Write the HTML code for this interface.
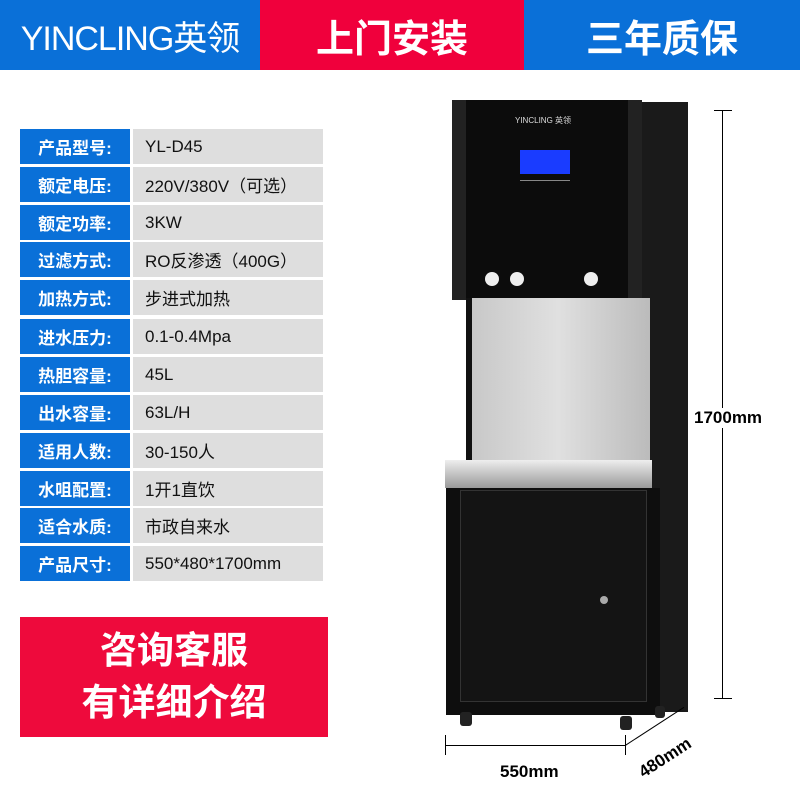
<!DOCTYPE html>
<html><head><meta charset="utf-8"><style>
body{margin:0;width:800px;height:800px;background:#fff;position:relative;overflow:hidden;font-family:"Liberation Sans","Noto Sans CJK SC",sans-serif}
.a{position:absolute}
.h{top:0;height:70px;color:#fff;font-weight:bold;display:flex;align-items:center;justify-content:center}
.l{position:absolute;left:20px;width:110px;height:35px;background:#0a70d8;color:#fff;font-size:17px;display:flex;align-items:center;justify-content:center;font-weight:bold}
.v{position:absolute;left:133px;width:190px;height:35px;background:#dedede;color:#111;font-size:17px;display:flex;align-items:center;padding-left:12px;box-sizing:border-box}
</style></head><body>
<div class="a h" style="left:0;width:260px;background:#0a70d8;font-size:34px;font-weight:normal;letter-spacing:-1px">YINCLING英领</div>
<div class="a h" style="left:260px;width:264px;background:#f0003c;font-size:38px">上门安装</div>
<div class="a h" style="left:524px;width:276px;background:#0a70d8;font-size:38px">三年质保</div>

<div class="l" style="top:129px">产品型号:</div><div class="v" style="top:129px">YL-D45</div>
<div class="l" style="top:167px">额定电压:</div><div class="v" style="top:167px">220V/380V（可选）</div>
<div class="l" style="top:205px">额定功率:</div><div class="v" style="top:205px">3KW</div>
<div class="l" style="top:242px">过滤方式:</div><div class="v" style="top:242px">RO反渗透（400G）</div>
<div class="l" style="top:280px">加热方式:</div><div class="v" style="top:280px">步进式加热</div>
<div class="l" style="top:319px">进水压力:</div><div class="v" style="top:319px">0.1-0.4Mpa</div>
<div class="l" style="top:357px">热胆容量:</div><div class="v" style="top:357px">45L</div>
<div class="l" style="top:395px">出水容量:</div><div class="v" style="top:395px">63L/H</div>
<div class="l" style="top:433px">适用人数:</div><div class="v" style="top:433px">30-150人</div>
<div class="l" style="top:471px">水咀配置:</div><div class="v" style="top:471px">1开1直饮</div>
<div class="l" style="top:508px">适合水质:</div><div class="v" style="top:508px">市政自来水</div>
<div class="l" style="top:546px">产品尺寸:</div><div class="v" style="top:546px">550*480*1700mm</div>

<div class="a" style="left:20px;top:617px;width:308px;height:120px;background:#ee0a3c;color:#fff;font-weight:bold;font-size:37px;text-align:center;line-height:52px;padding-top:8px;box-sizing:border-box">咨询客服<br>有详细介绍</div>

<!-- machine -->
<div class="a" style="left:640px;top:102px;width:48px;height:610px;background:#1a1a1a;transform:skewY(0deg)"></div>
<div class="a" style="left:452px;top:100px;width:190px;height:200px;background:#0c0c0c;border-left:14px solid #222;border-right:14px solid #222;box-sizing:border-box"></div>
<div class="a" style="left:515px;top:115px;color:#ddd;font-size:8px">YINCLING 英领</div>
<div class="a" style="left:520px;top:150px;width:50px;height:24px;background:#1a3cff"></div>
<div class="a" style="left:520px;top:180px;width:50px;height:8px;border-top:1px solid #888"></div>
<div class="a" style="left:485px;top:272px;width:14px;height:14px;border-radius:50%;background:#eee"></div>
<div class="a" style="left:510px;top:272px;width:14px;height:14px;border-radius:50%;background:#eee"></div>
<div class="a" style="left:584px;top:272px;width:14px;height:14px;border-radius:50%;background:#eee"></div>
<div class="a" style="left:466px;top:298px;width:184px;height:164px;background:linear-gradient(90deg,#111 0 6px,#c8c8c8 6px,#e0e0e0 50%,#bbb);"></div>
<div class="a" style="left:445px;top:460px;width:207px;height:28px;background:linear-gradient(#eee,#999)"></div>
<div class="a" style="left:446px;top:488px;width:214px;height:227px;background:#0e0e0e"></div>
<div class="a" style="left:460px;top:490px;width:185px;height:210px;border:1px solid #333;background:#141414"></div>
<div class="a" style="left:600px;top:596px;width:8px;height:8px;border-radius:50%;background:#aaa"></div>
<div class="a" style="left:460px;top:712px;width:12px;height:14px;border-radius:3px;background:#222"></div>
<div class="a" style="left:620px;top:716px;width:12px;height:14px;border-radius:3px;background:#222"></div>
<div class="a" style="left:655px;top:706px;width:10px;height:12px;border-radius:3px;background:#222"></div>

<!-- dimensions -->
<div class="a" style="left:722px;top:110px;width:1px;height:588px;background:#000"></div>
<div class="a" style="left:714px;top:110px;width:18px;height:1px;background:#000"></div>
<div class="a" style="left:714px;top:698px;width:18px;height:1px;background:#000"></div>
<div class="a" style="left:694px;top:408px;width:90px;height:20px;background:#fff;font-size:17px;font-weight:bold">1700mm</div>
<div class="a" style="left:445px;top:745px;width:180px;height:1px;background:#000"></div>
<div class="a" style="left:445px;top:735px;width:1px;height:20px;background:#000"></div>
<div class="a" style="left:625px;top:735px;width:1px;height:20px;background:#000"></div>
<div class="a" style="left:625px;top:745px;width:70px;height:1px;background:#000;transform-origin:0 0;transform:rotate(-33deg)"></div>
<div class="a" style="left:500px;top:762px;font-size:17px;font-weight:bold">550mm</div>
<div class="a" style="left:636px;top:748px;font-size:17px;font-weight:bold;transform:rotate(-33deg)">480mm</div>
</body></html>
